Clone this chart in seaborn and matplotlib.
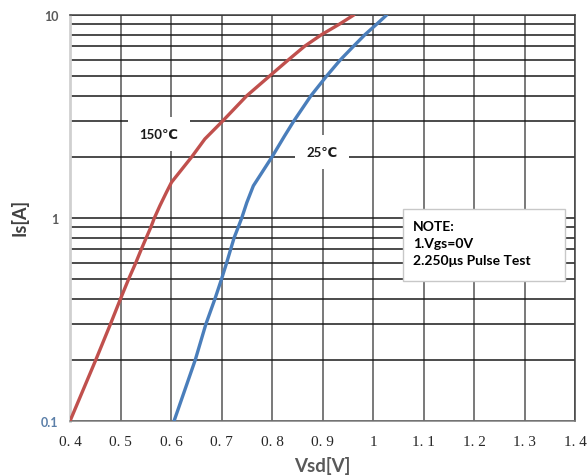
import matplotlib
matplotlib.use("Agg")
import matplotlib.pyplot as plt
import pandas as pd
import seaborn as sns
from matplotlib.patches import Rectangle
from matplotlib.ticker import FixedLocator, NullFormatter

# values
vsd_150 = [0.400, 0.451, 0.480, 0.500, 0.516, 0.530, 0.541, 0.551, 0.560, 0.567, 0.578, 0.591,
           0.601, 0.641, 0.667, 0.702, 0.750, 0.795, 0.832, 0.864, 0.898, 0.933, 0.962]
is_150 = [0.10, 0.20, 0.30, 0.40, 0.50, 0.60, 0.70, 0.80, 0.90, 1.00, 1.15, 1.34,
          1.50, 2.00, 2.45, 3.00, 4.00, 5.00, 6.00, 7.00, 8.00, 9.00, 10.0]
vsd_25 = [0.606, 0.648, 0.669, 0.687, 0.700, 0.710, 0.718, 0.725, 0.733, 0.740, 0.750,
          0.763, 0.800, 0.825, 0.843, 0.877, 0.908, 0.935, 0.961, 0.984, 1.007, 1.027]
is_25 = [0.10, 0.20, 0.30, 0.40, 0.50, 0.60, 0.70, 0.80, 0.90, 1.00, 1.19,
         1.44, 2.00, 2.54, 3.00, 4.00, 5.00, 6.00, 7.00, 8.00, 9.00, 10.0]

x_ticks = [0.4, 0.5, 0.6, 0.7, 0.8, 0.9, 1.0, 1.1, 1.2, 1.3, 1.4]
x_labels = ["0. 4", "0. 5", "0. 6", "0. 7", "0. 8", "0. 9", "1", "1. 1", "1. 2", "1. 3", "1. 4"]
y_ticks = [0.1, 1, 10]
y_labels = ["0.1", "1", "10"]
note_lines = ["NOTE:", "1.Vgs=0V", "2.250\u03bcs Pulse Test"]

df = pd.concat([
    pd.DataFrame({"Vsd": vsd_150, "Is": is_150, "temp": "150\u2103"}),
    pd.DataFrame({"Vsd": vsd_25, "Is": is_25, "temp": "25\u2103"}),
])

sns.set_style("white")
plt.rcParams["font.family"] = ["Lato", "DejaVu Sans"]

fig = plt.figure(figsize=(5.87, 4.77), dpi=100)
ax = fig.add_axes([0.1193, 0.1153, 0.8603, 0.8512])

sns.lineplot(
    data=df, x="Vsd", y="Is", hue="temp",
    palette={"150\u2103": "#c0504d", "25\u2103": "#4a7ebb"},
    linewidth=2.4, legend=False, ax=ax, sort=False, zorder=3,
)

ax.set_yscale("log")
ax.set_xlim(0.4, 1.4)
ax.set_ylim(0.1, 10)

ax.set_xticks(x_ticks)
ax.set_xticklabels(x_labels, family="Liberation Serif", fontsize=11, color="#262626")
ax.yaxis.set_major_locator(FixedLocator(y_ticks))
ax.set_yticklabels(y_labels, fontsize=9, fontweight="bold", color="#595959")
ax.get_yticklabels()[0].set_color("#5b7fa8")
ax.yaxis.set_minor_locator(FixedLocator([m * d for d in (0.1, 1) for m in range(2, 10)]))
ax.yaxis.set_minor_formatter(NullFormatter())
ax.tick_params(axis="both", which="both", length=0)
ax.tick_params(axis="x", pad=10)
ax.tick_params(axis="y", pad=8.5)

ax.grid(True, axis="x", color="#555555", linewidth=1.1)
ax.grid(True, axis="y", which="both", color="#1a1a1a", linewidth=1.1)

for side in ("top", "right"):
    ax.spines[side].set_color("#404040")
    ax.spines[side].set_linewidth(1.1)
ax.spines["left"].set_color("#d0d0d0")
ax.spines["left"].set_linewidth(2)
ax.spines["bottom"].set_color("#808080")
ax.spines["bottom"].set_linewidth(1.1)

ax.set_xlabel("Vsd[V]", fontsize=13.5, fontweight="bold", color="#595959")
ax.xaxis.set_label_coords(0.5, -0.085)
ax.set_ylabel("Is[A]", fontsize=13, fontweight="bold", color="#404040")
ax.yaxis.set_label_coords(-0.083, 0.505)

# curve labels on white patches that hide the grid
ax.text(0.576, 2.59, "150\u2103", ha="center", va="center", fontsize=9.5, fontweight="bold",
        color="#1a1a1a", zorder=4,
        bbox=dict(boxstyle="square,pad=0.85", facecolor="white", edgecolor="none"))
ax.text(0.899, 2.11, "25\u2103", ha="center", va="center", fontsize=9.5, fontweight="bold",
        color="#1a1a1a", zorder=4,
        bbox=dict(boxstyle="square,pad=0.85", facecolor="white", edgecolor="none"))

# note box
ax.add_patch(Rectangle((0.6594, 0.3448), 0.3208, 0.1774, transform=ax.transAxes,
                       facecolor="white", edgecolor="#c8c8c8", linewidth=1, zorder=4))
ax.text(1.079, 0.753, "\n".join(note_lines), ha="left", va="center", fontsize=10, fontweight="bold",
        color="#000000", linespacing=1.5, zorder=5)

fig.savefig("out.png", dpi=100)
